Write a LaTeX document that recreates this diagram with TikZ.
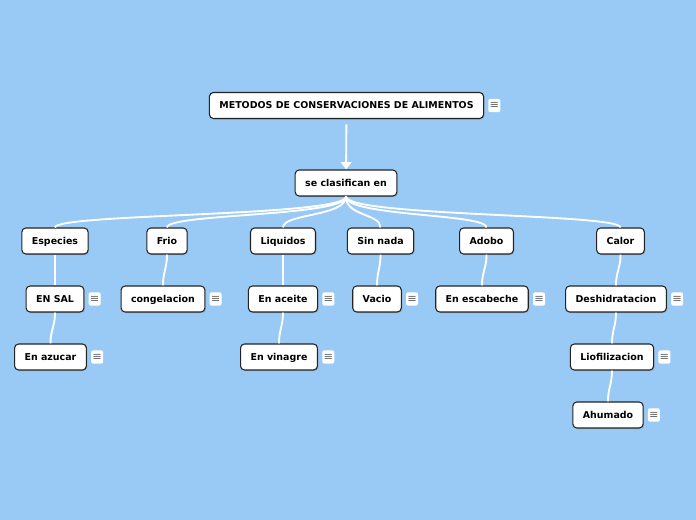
\documentclass[tikz,border=0pt]{standalone}
\usepackage{fontspec}
\setmainfont{DejaVu Sans}
\usepackage{tikz}
\usetikzlibrary{arrows.meta, positioning, shadows}
\definecolor{mybg}{RGB}{153,201,245}
\definecolor{mydark}{RGB}{35,35,35}
\definecolor{myicon}{RGB}{105,105,105}
\tikzset{
  block/.style={rectangle, draw=mydark, fill=white,
    minimum height=19.5pt, inner xsep=7.5pt, text height=5.2pt, text depth=0pt,
    font=\bfseries\fontsize{7.1}{8}\selectfont, rounded corners=3pt, line width=0.8pt,
    drop shadow={shadow xshift=0.8pt, shadow yshift=-0.8pt, opacity=0.35}},
  menuicon/.style={rectangle, fill=white, rounded corners=1.5pt,
    minimum width=9pt, minimum height=10pt, inner sep=0pt,
    text=myicon, font=\fontsize{8.5}{8.5}\selectfont},
  link/.style={white, line width=1.4pt},
  arrow/.style={-{Triangle[width=8pt,length=5.5pt]}, white, line width=1.4pt}
}

\begin{document}
\begin{tikzpicture}[x=0.75pt, y=-0.75pt]
  % Background
  \fill[mybg] (0,0) rectangle (696,520);
  \useasboundingbox (0,0) rectangle (696,520);

  % Root and first level
  \node[block] (root) at (346.5,105.5) {METODOS DE CONSERVACIONES DE ALIMENTOS};
  \node[block] (clasif) at (346,183) {se clasifican en};

  % Categories
  \node[block] (especies) at (55,241) {Especies};
  \node[block] (frio) at (167,241) {Frio};
  \node[block] (liquidos) at (283,241) {Liquidos};
  \node[block] (sinnada) at (380.5,241) {Sin nada};
  \node[block] (adobo) at (486.5,241) {Adobo};
  \node[block] (calor) at (620.5,241) {Calor};

  % Methods
  \node[block] (ensal) at (55,299) {EN SAL};
  \node[block] (congel) at (163,299) {congelacion};
  \node[block] (aceite) at (283,299) {En aceite};
  \node[block] (vacio) at (377,299) {Vacio};
  \node[block] (escabeche) at (482,299) {En escabeche};
  \node[block] (deshid) at (616,299) {Deshidratacion};
  \node[block] (azucar) at (50.5,357) {En azucar};
  \node[block] (vinagre) at (279,357) {En vinagre};
  \node[block] (liofil) at (612,357) {Liofilizacion};
  \node[block] (ahumado) at (608,415) {Ahumado};

  % Note icons
  \foreach \n in {root, ensal, congel, aceite, vacio, escabeche, deshid, azucar, vinagre, liofil, ahumado}
    \node[menuicon, right=3pt of \n] (\n-icon) {≡};

  % Links
  \draw[arrow, shorten <=4pt] (root) -- (clasif);
  \foreach \n in {especies, frio, liquidos, sinnada, adobo, calor}
    \draw[link] (clasif.south) .. controls +(0,20) and +(0,-14) .. (\n.north);
  \foreach \a/\b in {especies/ensal, ensal/azucar, frio/congel, liquidos/aceite, aceite/vinagre,
                     sinnada/vacio, adobo/escabeche, calor/deshid, deshid/liofil, liofil/ahumado}
    \draw[link] (\a.south) .. controls +(0,14) and +(0,-14) .. (\b.north);
\end{tikzpicture}
\end{document}
